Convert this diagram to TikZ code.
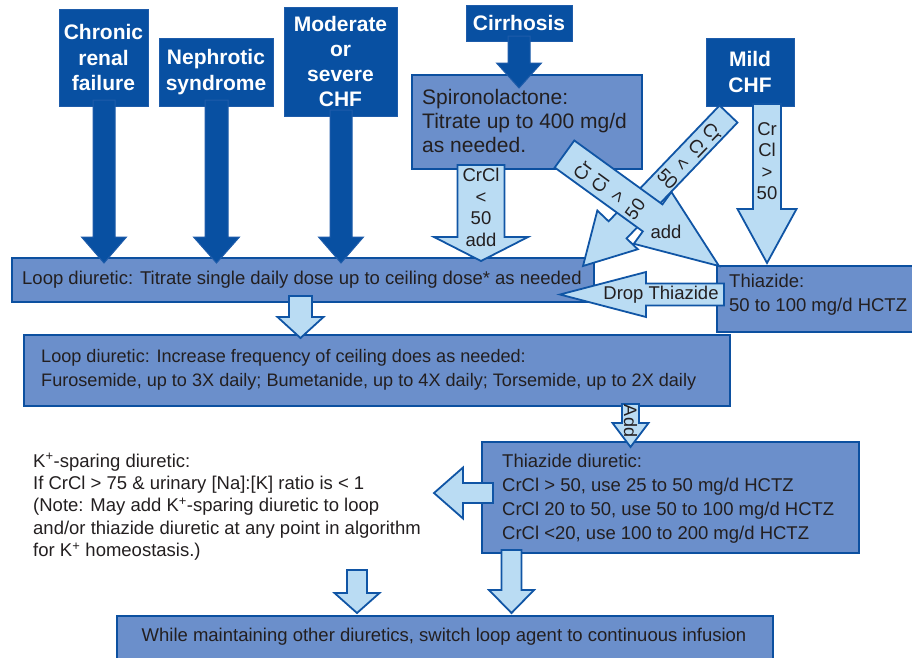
\documentclass[tikz,border=0pt]{standalone}
\usepackage{fontspec}
\setmainfont{Liberation Sans}
\usetikzlibrary{calc}
\definecolor{dkblue}{RGB}{8,80,162}
\definecolor{dkborder}{RGB}{30,92,170}
\definecolor{midblue}{RGB}{107,143,203}
\definecolor{boxborder}{RGB}{12,80,160}
\definecolor{ltblue}{RGB}{186,220,243}
\definecolor{arrborder}{RGB}{16,85,165}
\definecolor{txtcol}{RGB}{35,31,32}
% block arrow: [style] start, tip, shaft half width, head half width, head length
\newcommand{\blockarrow}[6][]{%
  \coordinate (ba-h) at ($(#3)!#6!(#2)$);
  \draw[#1] ($(#2)!#4!90:(#3)$) -- ($(ba-h)!#4!90:(#3)$) -- ($(ba-h)!#5!90:(#3)$) -- (#3)
    -- ($(ba-h)!#5!-90:(#3)$) -- ($(ba-h)!#4!-90:(#3)$) -- ($(#2)!#4!-90:(#3)$) -- cycle;
}
\tikzset{
  topbox/.style={fill=dkblue, draw=dkborder, line width=1pt, text=white,
    font=\bfseries\fontsize{21}{25.3}\selectfont, align=center, inner sep=0pt},
  midbox/.style={fill=midblue, draw=boxborder, line width=2pt, anchor=north west, inner sep=0pt},
  boxtext/.style={text=txtcol, font=\fontsize{18.5}{24}\selectfont, align=left, inner sep=0pt, anchor=west},
  darkarrow/.style={fill=dkblue, draw=dkborder, line width=1pt, line join=miter},
  lightarrow/.style={fill=ltblue, draw=arrborder, line width=1.8pt, line join=miter},
  arrtext/.style={text=txtcol, font=\fontsize{18.5}{21.5}\selectfont, align=center, inner sep=0pt},
}
\begin{document}
\begin{tikzpicture}[x=1pt,y=-1pt]
\useasboundingbox (0,0) rectangle (912,657);
\clip (0,0) rectangle (912,657);

% ---- top condition boxes
\node[topbox, minimum width=89pt, minimum height=97pt] (crf) at (103.5,57.5) {Chronic\\renal\\failure};
\node[topbox, minimum width=114pt, minimum height=68pt] (neph) at (216,72) {Nephrotic\\syndrome};
\node[topbox, minimum width=113pt, minimum height=109pt] (chf) at (340.5,61.5) {Moderate\\or\\severe\\CHF};
\node[topbox, minimum width=106pt, minimum height=36pt] (cirr) at (519,23) {Cirrhosis};
\node[topbox, minimum width=88pt, minimum height=68pt] (mild) at (750,72) {Mild\\CHF};

% ---- treatment boxes
\node[midbox, minimum width=230pt, minimum height=94pt] (spiro) at (411,74) {};
\node[midbox, minimum width=582pt, minimum height=44pt] (loop1) at (11,257) {};
\node[midbox, minimum width=215pt, minimum height=66pt] (thz) at (716,265) {};
\node[midbox, minimum width=706pt, minimum height=71pt] (loop2) at (23,334) {};
\node[midbox, minimum width=377pt, minimum height=111pt] (thd) at (481,441) {};
\node[midbox, minimum width=656pt, minimum height=44pt] (cont) at (116,615) {};

% ---- arrow end points
\coordinate (crf-s) at (104,100);   \coordinate (crf-t) at (104,263);
\coordinate (neph-s) at (216.5,100); \coordinate (neph-t) at (216.5,263);
\coordinate (chf-s) at (341,110);   \coordinate (chf-t) at (341,263);
\coordinate (cirr-s) at (519,36);   \coordinate (cirr-t) at (519,88);
\coordinate (crcl-s) at (481,165);  \coordinate (crcl-t) at (481,261);
\coordinate (mildv-s) at (767,104); \coordinate (mildv-t) at (767,263);
\coordinate (drop-s) at (724,294.5); \coordinate (drop-t) at (560,294.5);
\coordinate (mildd-s) at (728.5,114); \coordinate (mildd-t) at (583,266);
\coordinate (spd-s) at (564.5,154); \coordinate (spd-t) at (719,266);
\coordinate (l12-s) at (300.5,296); \coordinate (l12-t) at (300.5,338);
\coordinate (add-s) at (630.5,404); \coordinate (add-t) at (630.5,447);
\coordinate (left-s) at (493,493);  \coordinate (left-t) at (434,493);
\coordinate (bl-s) at (357,570);    \coordinate (bl-t) at (357,613);
\coordinate (br-s) at (511.5,550);  \coordinate (br-t) at (511.5,613);

% ---- dark arrows
\blockarrow[darkarrow]{crf-s}{crf-t}{11pt}{22.5pt}{26pt}
\blockarrow[darkarrow]{neph-s}{neph-t}{11.5pt}{23pt}{26pt}
\blockarrow[darkarrow]{chf-s}{chf-t}{11pt}{22.5pt}{26pt}
\blockarrow[darkarrow]{cirr-s}{cirr-t}{11pt}{22.5pt}{25pt}

% ---- light arrows
\blockarrow[lightarrow]{crcl-s}{crcl-t}{23.5pt}{47pt}{24pt}
\blockarrow[lightarrow]{mildv-s}{mildv-t}{14pt}{29.5pt}{54pt}
\blockarrow[lightarrow]{drop-s}{drop-t}{11pt}{22.5pt}{86pt}
\blockarrow[lightarrow]{mildd-s}{mildd-t}{12.4pt}{28pt}{50pt}
\blockarrow[lightarrow]{spd-s}{spd-t}{16.7pt}{32pt}{82pt}
\blockarrow[lightarrow]{l12-s}{l12-t}{11.5pt}{23pt}{21pt}
\blockarrow[lightarrow]{add-s}{add-t}{8.5pt}{18pt}{24pt}
\blockarrow[lightarrow]{left-s}{left-t}{10pt}{25.5pt}{29pt}
\blockarrow[lightarrow]{bl-s}{bl-t}{10pt}{22.5pt}{20pt}
\blockarrow[lightarrow]{br-s}{br-t}{10pt}{22.5pt}{23pt}

% ---- arrow labels
\node[arrtext] (crcl-l) at (481,207.5) {CrCl\\<\\50\\add};
\node[arrtext] (mildv-l) at (767,161) {Cr\\Cl\\>\\50};
\node[arrtext] (drop-l) at (661,295) {Drop Thiazide};
\node[arrtext, rotate=-44] (mildd-l) at (690,156) {Cr\\Cl\\<\\50};
\node[arrtext, rotate=54] (spd-l) at (609,190) {Cr\\Cl\\>\\50};
\node[arrtext] (spd-add) at (666,232) {add};
\node[arrtext, font=\fontsize{18}{21}\selectfont, rotate=-90] (add-l) at (630.5,421) {Add};

% ---- box texts
\node[boxtext, font=\fontsize{21}{24}\selectfont] (spiro-l) at (422,121) {Spironolactone:\\Titrate up to 400 mg/d\\as needed.};
\node[boxtext] (loop1-l) at (22,280) {Loop diuretic: Titrate single daily dose up to ceiling dose* as needed};
\node[boxtext] (thz-l) at (729,295) {Thiazide:\\50 to 100 mg/d HCTZ};
\node[boxtext, font=\fontsize{18.1}{24}\selectfont] (loop2-l) at (41,370) {Loop diuretic: Increase frequency of ceiling does as needed:\\Furosemide, up to 3X daily; Bumetanide, up to 4X daily; Torsemide, up to 2X daily};
\node[boxtext] (thd-l) at (502,499) {Thiazide diuretic:\\CrCl > 50, use 25 to 50 mg/d HCTZ\\CrCl 20 to 50, use 50 to 100 mg/d HCTZ\\CrCl <20, use 100 to 200 mg/d HCTZ};
\node[boxtext, font=\fontsize{18.5}{22.4}\selectfont] (ksp) at (33,507) {K\textsuperscript{+}-sparing diuretic:\\If CrCl > 75 \& urinary [Na]:[K] ratio is < 1\\(Note: May add K\textsuperscript{+}-sparing diuretic to loop\\and/or thiazide diuretic at any point in algorithm\\for K\textsuperscript{+} homeostasis.)};
\node[boxtext, anchor=center] (cont-l) at (444,637) {While maintaining other diuretics, switch loop agent to continuous infusion};
\end{tikzpicture}
\end{document}
